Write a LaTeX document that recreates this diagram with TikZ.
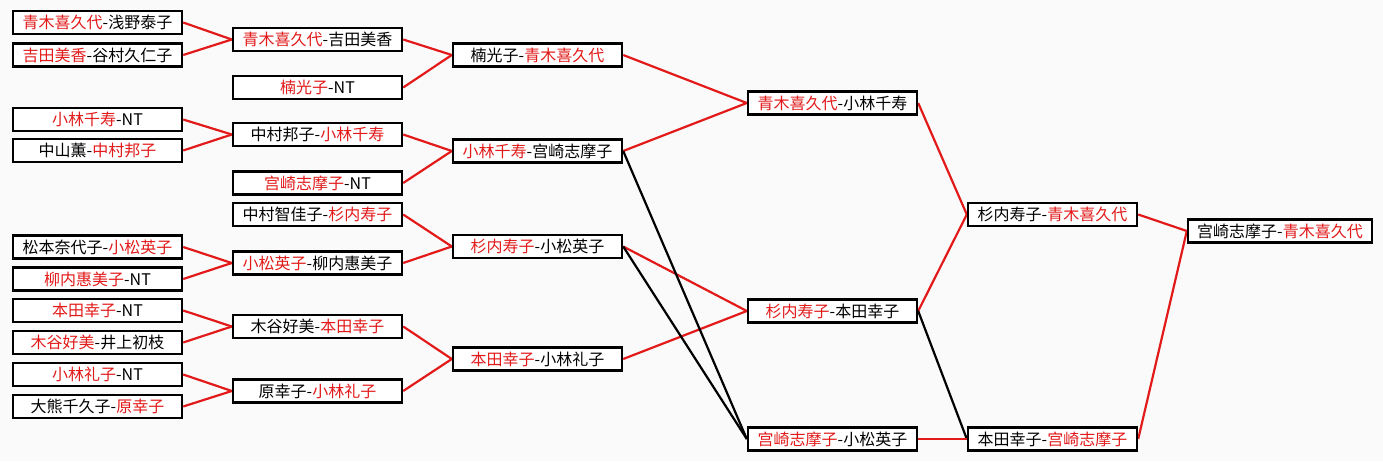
\documentclass[tikz,border=0pt]{standalone}
\usepackage{fontspec}
\newfontfamily\cjk{Noto Sans CJK SC}
\usetikzlibrary{backgrounds}
\definecolor{win}{RGB}{226,26,26}
\definecolor{bgc}{RGB}{250,250,250}
\newcommand{\W}[1]{\textcolor{win}{#1}}
\tikzset{
  box/.style={draw=black, line width=2.4pt, fill=white, minimum width=169pt, minimum height=23pt, inner sep=0pt, font=\cjk\fontsize{16}{18}\selectfont},
  fbox/.style={box, minimum width=184pt},
  wl/.style={draw=win, line width=2.2pt},
  ll/.style={draw=black, line width=2.2pt}
}
\begin{document}
\begin{tikzpicture}[x=1pt,y=-1pt]
\useasboundingbox (0,0) rectangle (1383,461);
% column 1
\node[box] (a1) at (97.5,22.5) {\W{青木喜久代}-浅野泰子};
\node[box] (a2) at (97.5,55) {\W{吉田美香}-谷村久仁子};
\node[box] (a3) at (97.5,119.5) {\W{小林千寿}-NT};
\node[box] (a4) at (97.5,150.5) {中山薫-\W{中村邦子}};
\node[box] (a5) at (97.5,247) {松本奈代子-\W{小松英子}};
\node[box] (a6) at (97.5,279) {\W{柳内惠美子}-NT};
\node[box] (a7) at (97.5,310.5) {\W{本田幸子}-NT};
\node[box] (a8) at (97.5,342.5) {\W{木谷好美}-井上初枝};
\node[box] (a9) at (97.5,374.5) {\W{小林礼子}-NT};
\node[box] (a10) at (97.5,406.5) {大熊千久子-\W{原幸子}};
% column 2
\node[box] (b1) at (317.5,39.5) {\W{青木喜久代}-吉田美香};
\node[box] (b2) at (317.5,87.5) {\W{楠光子}-NT};
\node[box] (b3) at (317.5,134.5) {中村邦子-\W{小林千寿}};
\node[box] (b4) at (317.5,183) {\W{宫崎志摩子}-NT};
\node[box] (b5) at (317.5,214.5) {中村智佳子-\W{杉内寿子}};
\node[box] (b6) at (317.5,263) {\W{小松英子}-柳内惠美子};
\node[box] (b7) at (317.5,326.5) {木谷好美-\W{本田幸子}};
\node[box] (b8) at (317.5,391) {原幸子-\W{小林礼子}};
% column 3
\node[box] (c1) at (537.5,55) {楠光子-\W{青木喜久代}};
\node[box] (c2) at (537.5,151) {\W{小林千寿}-宫崎志摩子};
\node[box] (c3) at (537.5,246.5) {\W{杉内寿子}-小松英子};
\node[box] (c4) at (537.5,359) {\W{本田幸子}-小林礼子};
% column 4
\node[box] (d1) at (832.5,103) {\W{青木喜久代}-小林千寿};
\node[box] (d2) at (832.5,311) {\W{杉内寿子}-本田幸子};
\node[box] (d3) at (832.5,439) {\W{宫崎志摩子}-小松英子};
% column 5
\node[box] (e1) at (1052.5,214.5) {杉内寿子-\W{青木喜久代}};
\node[box] (e2) at (1052.5,439) {本田幸子-\W{宫崎志摩子}};
% final
\node[fbox] (f1) at (1280,231) {宫崎志摩子-\W{青木喜久代}};
\begin{scope}[on background layer]
\fill[bgc] (0,0) rectangle (1383,461);
\draw[wl] (a1.east) -- (b1.west);
\draw[wl] (a2.east) -- (b1.west);
\draw[wl] (a3.east) -- (b3.west);
\draw[wl] (a4.east) -- (b3.west);
\draw[wl] (a5.east) -- (b6.west);
\draw[wl] (a6.east) -- (b6.west);
\draw[wl] (a7.east) -- (b7.west);
\draw[wl] (a8.east) -- (b7.west);
\draw[wl] (a9.east) -- (b8.west);
\draw[wl] (a10.east) -- (b8.west);
\draw[wl] (b1.east) -- (c1.west);
\draw[wl] (b2.east) -- (c1.west);
\draw[wl] (b3.east) -- (c2.west);
\draw[wl] (b4.east) -- (c2.west);
\draw[wl] (b5.east) -- (c3.west);
\draw[wl] (b6.east) -- (c3.west);
\draw[wl] (b7.east) -- (c4.west);
\draw[wl] (b8.east) -- (c4.west);
\draw[wl] (c1.east) -- (d1.west);
\draw[wl] (c2.east) -- (d1.west);
\draw[wl] (c3.east) -- (d2.west);
\draw[wl] (c4.east) -- (d2.west);
\draw[ll] (c2.east) -- (d3.west);
\draw[ll] (c3.east) -- (d3.west);
\draw[wl] (d1.east) -- (e1.west);
\draw[wl] (d2.east) -- (e1.west);
\draw[ll] (d2.east) -- (e2.west);
\draw[wl] (d3.east) -- (e2.west);
\draw[wl] (e1.east) -- (f1.west);
\draw[wl] (e2.east) -- (f1.west);
\end{scope}
\end{tikzpicture}
\end{document}
